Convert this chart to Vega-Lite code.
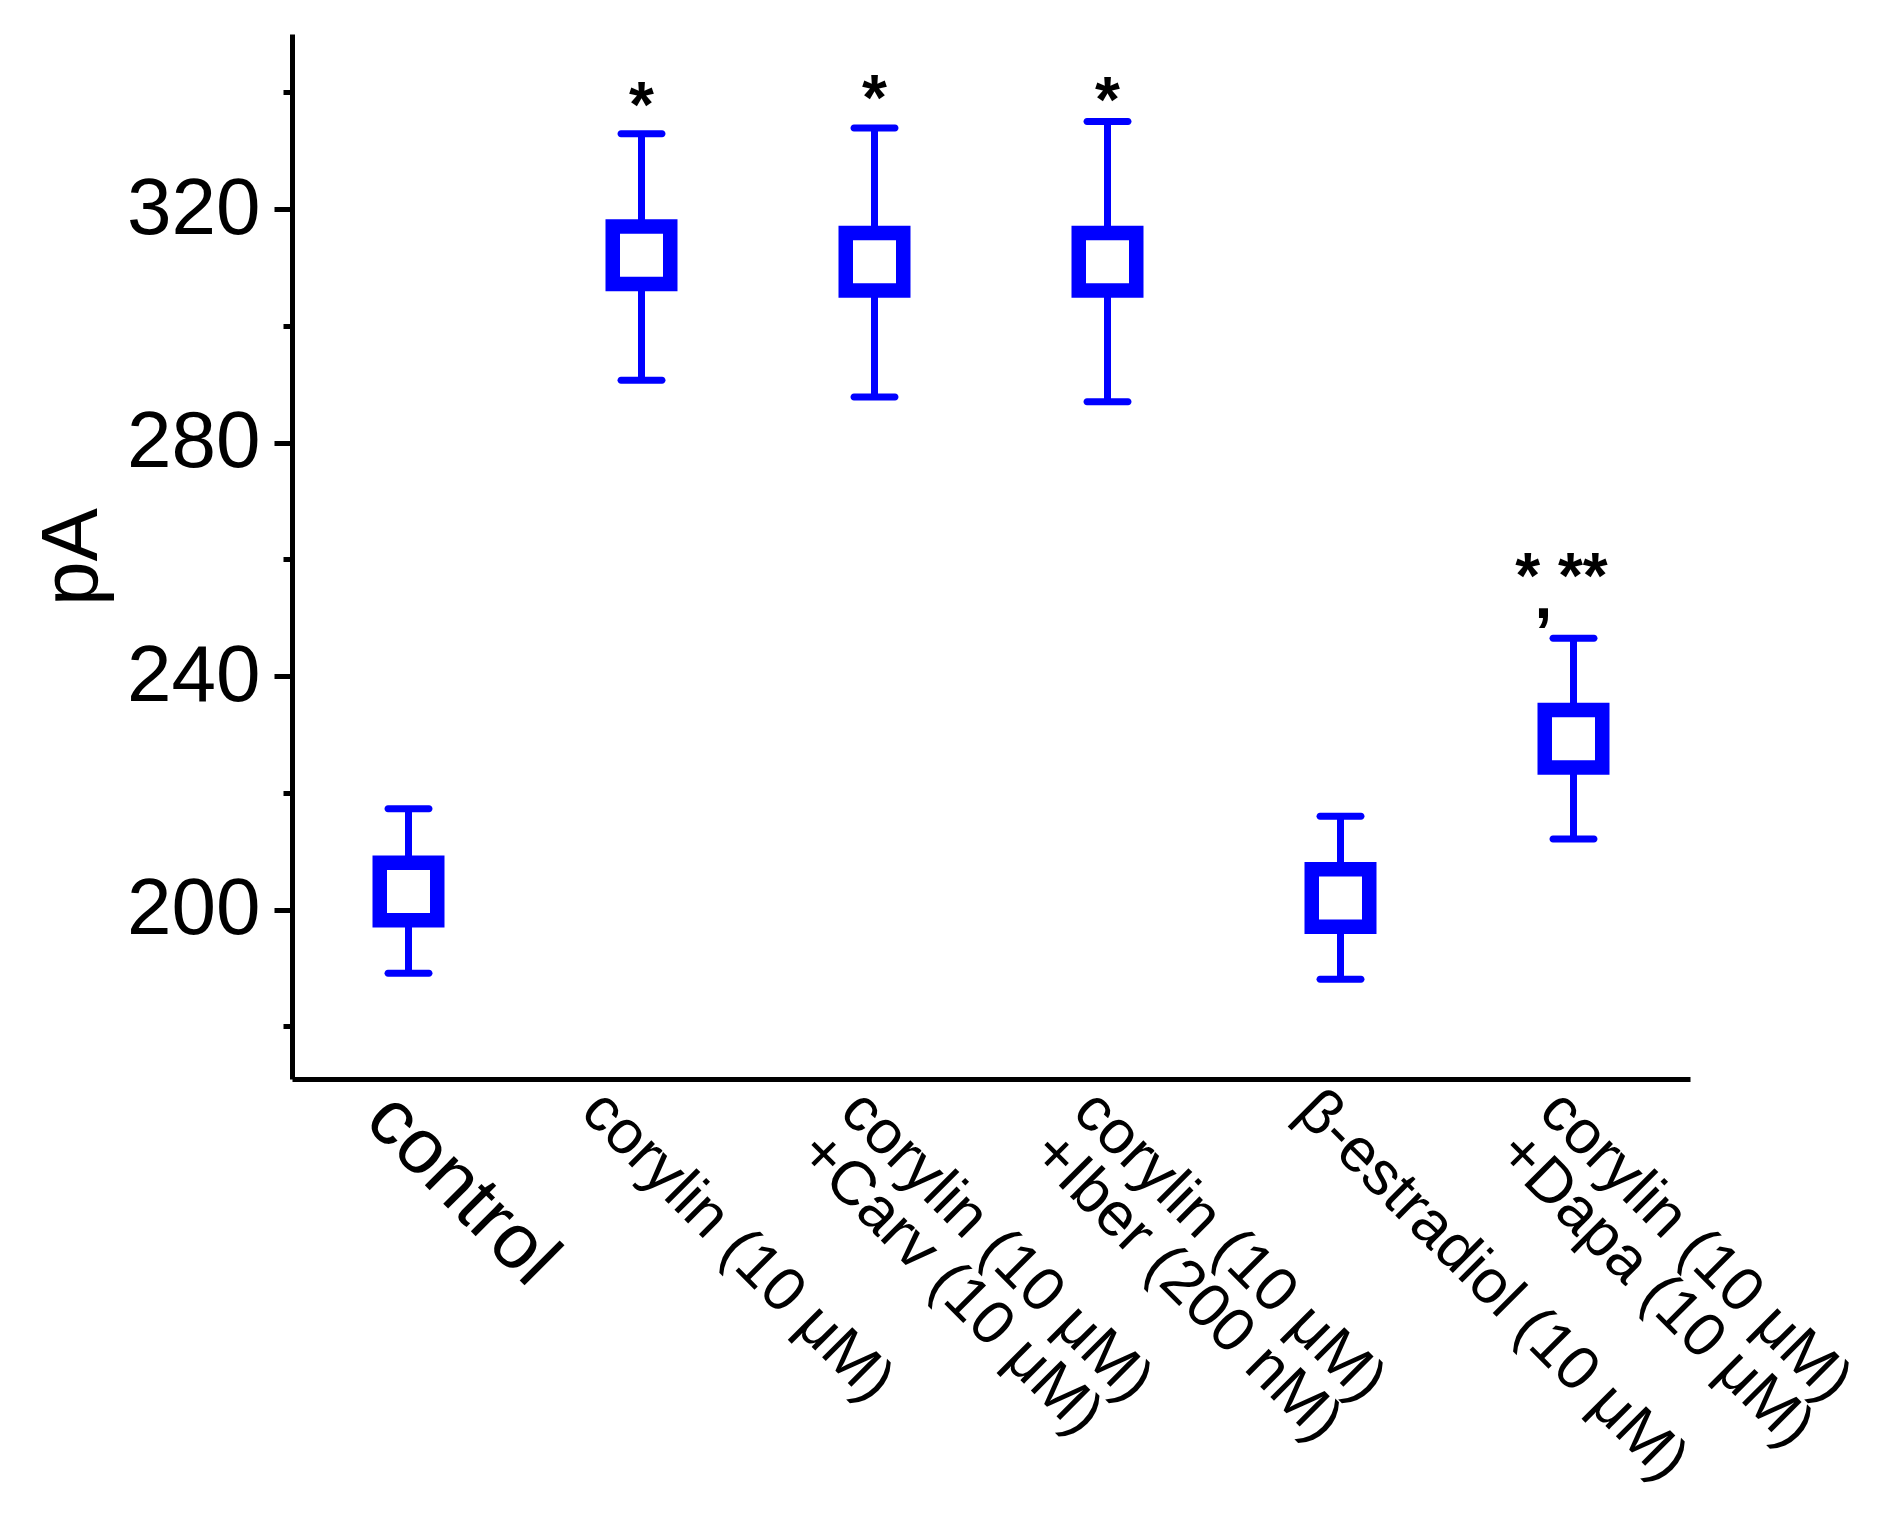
{
  "$schema": "https://vega.github.io/schema/vega-lite/v6.json",
  "width": 1398,
  "height": 1045,
  "autosize": {"type": "none"},
  "padding": {"left": 292, "top": 34, "right": 206, "bottom": 449},
  "background": "white",
  "datasets": {
    "groups": [
      {"group": "control", "low": 189.1, "mean": 203.1, "high": 217.3},
      {"group": "corylin (10 μM)", "low": 290.7, "mean": 312.1, "high": 332.9},
      {"group": "corylin (10 μM)|+Carv (10 μM)", "low": 287.8, "mean": 311.0, "high": 333.9},
      {"group": "corylin (10 μM)|+Iber (200 nM)", "low": 287.0, "mean": 311.0, "high": 335.0},
      {"group": "β-estradiol (10 μM)", "low": 188.1, "mean": 202.0, "high": 216.0},
      {"group": "corylin (10 μM)|+Dapa (10 μM)", "low": 212.1, "mean": 229.3, "high": 246.5}
    ],
    "marks": [
      {"group": "corylin (10 μM)", "text": "*", "pos": 334.1, "kind": "star"},
      {"group": "corylin (10 μM)|+Carv (10 μM)", "text": "*", "pos": 335.3, "kind": "star"},
      {"group": "corylin (10 μM)|+Iber (200 nM)", "text": "*", "pos": 334.9, "kind": "star"},
      {"group": "corylin (10 μM)|+Dapa (10 μM)", "text": "*  **", "pos": 253.4, "kind": "pair"},
      {"group": "corylin (10 μM)|+Dapa (10 μM)", "text": ",", "pos": 250.0, "kind": "comma"}
    ]
  },
  "encoding": {
    "x": {
      "field": "group",
      "type": "nominal",
      "sort": null,
      "scale": {"type": "band", "paddingInner": 0, "paddingOuter": 0},
      "axis": {
        "title": null,
        "ticks": false,
        "domainWidth": 5,
        "labelAngle": 45,
        "labelAlign": "left",
        "labelBaseline": "top",
        "labelPadding": 0,
        "labelOffset": {
          "condition": [
            {"test": "datum.value == 'control'", "value": -2},
            {"test": "indexof(datum.value, '|') >= 0", "value": -2},
            {"test": "indexof(datum.value, 'estradiol') >= 0", "value": -12}
          ],
          "value": -28
        },
        "labelLimit": 0,
        "labelOverlap": false,
        "labelFlush": false,
        "labelLineHeight": 59,
        "labelExpr": "split(datum.label, '|')",
        "labelFontSize": {"condition": {"test": "datum.value == 'control'", "value": 78}, "value": 62}
      }
    }
  },
  "layer": [
    {
      "data": {"name": "groups"},
      "mark": {"type": "rule", "color": "#0000ff", "strokeWidth": 7},
      "encoding": {
        "y": {
          "field": "low",
          "type": "quantitative",
          "scale": {"domain": [171, 350], "zero": false, "nice": false},
          "axis": {
            "title": "pA",
            "titleFontSize": 80,
            "titleFontWeight": "normal",
            "titlePadding": 13,
            "values": [180, 200, 220, 240, 260, 280, 300, 320, 340],
            "labelExpr": "datum.value % 40 == 0 ? datum.label : ''",
            "labelFontSize": 80,
            "labelPadding": 14,
            "domainWidth": 5,
            "tickWidth": 5,
            "tickSize": {"condition": {"test": "datum.value % 40 == 0", "value": 18}, "value": 9},
            "grid": false
          }
        },
        "y2": {"field": "high"}
      }
    },
    {
      "data": {"name": "groups"},
      "mark": {"type": "tick", "color": "#0000ff", "size": 48, "thickness": 7, "cornerRadius": 3.5, "opacity": 1},
      "encoding": {"y": {"field": "low", "type": "quantitative"}}
    },
    {
      "data": {"name": "groups"},
      "mark": {"type": "tick", "color": "#0000ff", "size": 48, "thickness": 7, "cornerRadius": 3.5, "opacity": 1},
      "encoding": {"y": {"field": "high", "type": "quantitative"}}
    },
    {
      "data": {"name": "groups"},
      "mark": {"type": "point", "shape": "square", "size": 3306, "filled": true, "fill": "white", "stroke": "#0000ff", "strokeWidth": 14.5, "strokeJoin": "miter", "opacity": 1},
      "encoding": {"y": {"field": "mean", "type": "quantitative"}}
    },
    {
      "data": {"name": "marks"},
      "transform": [{"filter": "datum.kind == 'star'"}],
      "mark": {"type": "text", "fontSize": 64, "fontWeight": "bold", "baseline": "alphabetic", "align": "center", "color": "black"},
      "encoding": {"y": {"field": "pos", "type": "quantitative"}, "text": {"field": "text"}}
    },
    {
      "data": {"name": "marks"},
      "transform": [{"filter": "datum.kind == 'pair'"}],
      "mark": {"type": "text", "fontSize": 64, "fontWeight": "bold", "baseline": "alphabetic", "align": "center", "dx": -12, "color": "black"},
      "encoding": {"y": {"field": "pos", "type": "quantitative"}, "text": {"field": "text"}}
    },
    {
      "data": {"name": "marks"},
      "transform": [{"filter": "datum.kind == 'comma'"}],
      "mark": {"type": "text", "fontSize": 64, "fontWeight": "bold", "baseline": "alphabetic", "align": "center", "dx": -30, "color": "black"},
      "encoding": {"y": {"field": "pos", "type": "quantitative"}, "text": {"field": "text"}}
    }
  ],
  "config": {
    "font": "Liberation Sans",
    "view": {"stroke": null},
    "axis": {
      "domainColor": "black",
      "tickColor": "black",
      "labelColor": "black",
      "titleColor": "black",
      "labelFont": "Liberation Sans",
      "titleFont": "Liberation Sans",
      "grid": false
    }
  }
}
